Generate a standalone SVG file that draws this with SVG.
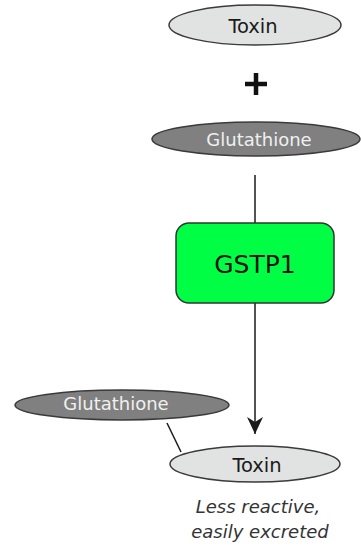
<svg xmlns="http://www.w3.org/2000/svg" width="361" height="547" viewBox="0 0 361 547">
  <style>
    text { font-family: "DejaVu Sans", "Liberation Sans", sans-serif; text-anchor: middle; }
    .toxin ellipse { fill: #e1e3e2; stroke: #3a3a3a; stroke-width: 1.5; }
    .toxin text { font-size: 19.5px; fill: #1a1a1a; }
    .gsh ellipse { fill: #808080; stroke: #3a3a3a; stroke-width: 1.5; }
    .gsh text { font-size: 18px; fill: #f0f0f0; }
    .link { stroke: #1a1a1a; stroke-width: 1.5; fill: none; }
    .note { font-size: 18px; font-style: italic; font-weight: 300; fill: #333; }
  </style>
  <defs>
    <marker id="arrow" viewBox="0 0 18 16" refX="17" refY="8" markerWidth="18" markerHeight="16" markerUnits="userSpaceOnUse" orient="auto">
      <path d="M0,0 L17,8 L0,16 L5,8 Z" fill="#1a1a1a"/>
    </marker>
  </defs>

  <g id="connectors">
    <line class="link" x1="255" y1="175" x2="255" y2="223"/>
    <line class="link" x1="255" y1="303" x2="255" y2="434" marker-end="url(#arrow)"/>
    <line class="link" x1="167" y1="423" x2="181" y2="452"/>
  </g>

  <g id="toxin-in" class="toxin">
    <ellipse cx="255" cy="25" rx="86" ry="20"/>
    <text x="253" y="33">Toxin</text>
  </g>

  <g id="plus">
    <path d="M245,84 H267 M256,73 V95" stroke="#111" stroke-width="4.5" fill="none"/>
  </g>

  <g id="glutathione-in" class="gsh">
    <ellipse cx="256" cy="139" rx="104" ry="17"/>
    <text x="259" y="146">Glutathione</text>
  </g>

  <g id="gstp1">
    <rect x="176" y="223" width="158" height="80" rx="13" fill="#00ff44" stroke="#333" stroke-width="1.5"/>
    <text x="255" y="273" font-size="25" fill="#111">GSTP1</text>
  </g>

  <g id="glutathione-out" class="gsh">
    <ellipse cx="122" cy="405" rx="107" ry="15"/>
    <text x="116" y="410">Glutathione</text>
  </g>

  <g id="toxin-out" class="toxin">
    <ellipse cx="255" cy="464" rx="85" ry="18"/>
    <text x="257" y="472">Toxin</text>
  </g>

  <g id="note">
    <text class="note" x="258" y="513">Less reactive,</text>
    <text class="note" x="260" y="538">easily excreted</text>
  </g>
</svg>
